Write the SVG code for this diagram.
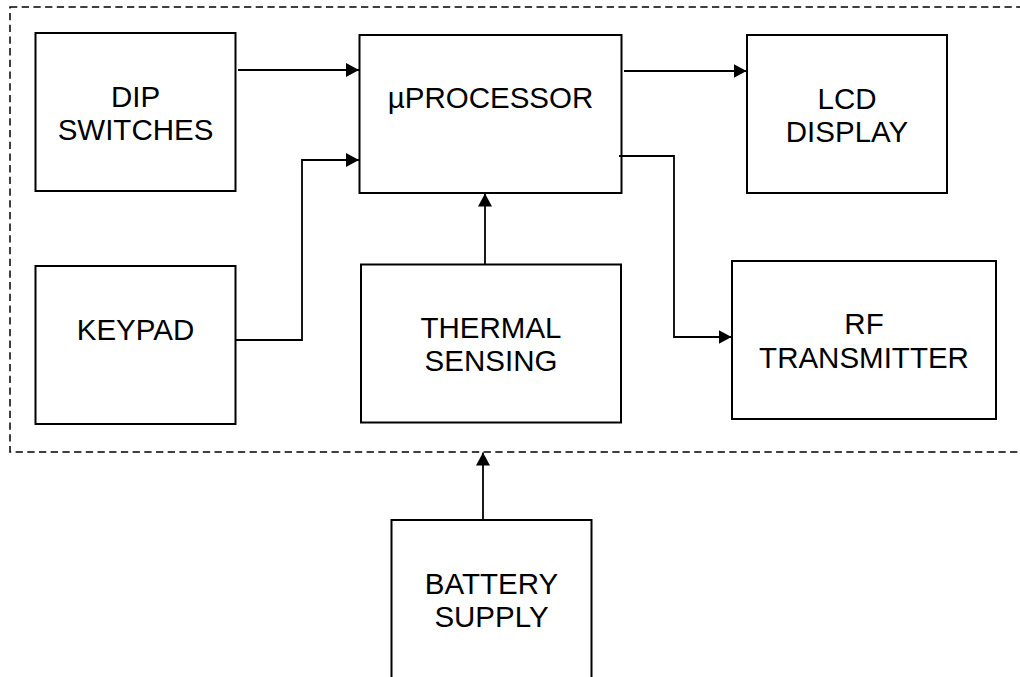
<svg xmlns="http://www.w3.org/2000/svg" width="1020" height="677" viewBox="0 0 1020 677">
<style>
.box{fill:#fff;stroke:#000;stroke-width:2}
.lbl{font-family:"Liberation Sans",Arial,sans-serif;font-size:29.5px;fill:#000;text-anchor:middle}
.wire{fill:none;stroke:#000;stroke-width:1.8}
.frame{fill:none;stroke:#000;stroke-width:1.5;stroke-dasharray:7.3 4.4}
</style>
<defs>
<marker id="ah" markerUnits="userSpaceOnUse" markerWidth="13" markerHeight="14" refX="13" refY="7" orient="auto">
<path d="M0,0 L13,7 L0,14 z" fill="#000"/>
</marker>
</defs>
<rect width="1020" height="677" fill="#fff"/>
<rect id="frame" class="frame" x="10" y="7" width="1030" height="445"/>
<g id="dip"><rect class="box" x="35.5" y="33" width="200" height="158"/><text class="lbl" x="135.5" y="107">DIP</text><text class="lbl" x="135.5" y="140">SWITCHES</text></g>
<g id="keypad"><rect class="box" x="35.5" y="266" width="200" height="158"/><text class="lbl" x="135.5" y="339.5">KEYPAD</text></g>
<g id="uproc"><rect class="box" x="359.5" y="35" width="262" height="158"/><text class="lbl" x="490.5" y="107.5">µPROCESSOR</text></g>
<g id="thermal"><rect class="box" x="361" y="264.5" width="260" height="158"/><text class="lbl" x="491" y="337.5">THERMAL</text><text class="lbl" x="491" y="371">SENSING</text></g>
<g id="lcd"><rect class="box" x="747" y="35" width="200" height="158"/><text class="lbl" x="847" y="108.5">LCD</text><text class="lbl" x="847" y="141.7">DISPLAY</text></g>
<g id="rf"><rect class="box" x="732" y="261" width="264" height="158"/><text class="lbl" x="864" y="333.5">RF</text><text class="lbl" x="864" y="367.5">TRANSMITTER</text></g>
<g id="battery"><rect class="box" x="391.5" y="520" width="200" height="180"/><text class="lbl" x="491.5" y="593.5">BATTERY</text><text class="lbl" x="491.5" y="626.7">SUPPLY</text></g>
<g id="connectors">
<path class="wire" d="M238,70 H359" marker-end="url(#ah)"/>
<path class="wire" d="M235.5,340 H302 V160 H359" marker-end="url(#ah)"/>
<path class="wire" d="M485,264 V193.5" marker-end="url(#ah)"/>
<path class="wire" d="M624,71 H746.5" marker-end="url(#ah)"/>
<path class="wire" d="M619,156 H674 V337 H731.5" marker-end="url(#ah)"/>
<path class="wire" d="M483,520 V452.5" marker-end="url(#ah)"/>
</g>
</svg>
